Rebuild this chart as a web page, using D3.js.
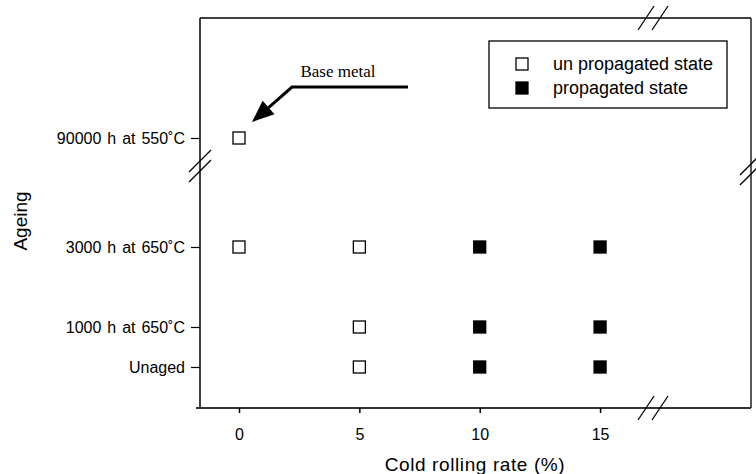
<!DOCTYPE html>
<html>
<head>
<meta charset="utf-8">
<script src="https://cdn.jsdelivr.net/npm/d3@7/dist/d3.min.js"></script>
<style>
  html, body { margin: 0; padding: 0; background: #fff; }
  svg { display: block; }
</style>
</head>
<body>
<svg id="chart" width="756" height="474" font-family="Liberation Sans, Arial, sans-serif"></svg>
<script>
// Cold rolling rate tick values (%)
const rollingRates = [0, 5, 10, 15];

// Ageing conditions: label and ageing time in hours
const ageLabels = ["Unaged", "1000 h at 650˚C", "3000 h at 650˚C", "90000 h at 550˚C"];
const ageHours = [0, 1000, 3000, 90000];

// Un-propagated specimens (open squares)
const unpropRate = [0, 0, 5, 5, 5];
const unpropHours = [90000, 3000, 3000, 1000, 0];

// Propagated specimens (filled squares)
const propRate = [10, 15, 10, 15, 10, 15];
const propHours = [3000, 3000, 1000, 1000, 0, 0];

const legendLabels = ["un propagated state", "propagated state"];

const SANS = "Liberation Sans, Arial, sans-serif";
const SERIF = "Liberation Serif, Times New Roman, serif";

const svg = d3.select("#chart");
const frame = { left: 200, right: 751, top: 18, bottom: 408 };

// Linear rate scale
const x = d3.scaleLinear().domain([-1.62, 21.27]).range([frame.left, frame.right]);

// Broken ageing-time scale: 0–5000 h below the break, ~90000 h above it
const y = d3.scaleLinear()
  .domain([-1025, 5000, 89450, 93000])
  .range([frame.bottom, 167, 160, frame.top]);

const yBreakPx = 166;
const xBreakPx = x(17.2);

// Frame lines
const g = svg.append("g");
g.append("line").attr("x1", frame.left).attr("x2", frame.left)
  .attr("y1", frame.top).attr("y2", frame.bottom)
  .attr("stroke", "#000").attr("stroke-width", 1.5);
g.append("line").attr("x1", frame.left - 4).attr("x2", frame.right)
  .attr("y1", frame.bottom).attr("y2", frame.bottom)
  .attr("stroke", "#333").attr("stroke-width", 2);
g.append("line").attr("x1", frame.left).attr("x2", frame.right)
  .attr("y1", frame.top).attr("y2", frame.top)
  .attr("stroke", "#000").attr("stroke-width", 1.5);
g.append("line").attr("x1", frame.right).attr("x2", frame.right)
  .attr("y1", frame.top).attr("y2", frame.bottom)
  .attr("stroke", "#222").attr("stroke-width", 1.5);

// Axes
const xAxis = d3.axisBottom(x).tickValues(rollingRates).tickSize(5).tickPadding(16)
  .tickFormat(d3.format("d"));
const xg = svg.append("g").attr("transform", `translate(0,${frame.bottom})`).call(xAxis);
xg.select(".domain").remove();
xg.selectAll(".tick line").attr("stroke", "#000").attr("stroke-width", 1.5);
xg.selectAll(".tick text").attr("font-size", 16).attr("font-family", SANS);

const yAxis = d3.axisLeft(y).tickValues(ageHours).tickSize(9).tickPadding(6)
  .tickFormat((d, i) => ageLabels[i]);
const yg = svg.append("g").attr("transform", `translate(${frame.left},0)`).call(yAxis);
yg.select(".domain").remove();
yg.selectAll(".tick line").attr("stroke", "#000").attr("stroke-width", 1.2);
yg.selectAll(".tick text").attr("font-size", 16).attr("font-family", SANS)
  .attr("word-spacing", 1.5);

// Axis break marks (double slashes)
function xBreak(cx, cy) {
  [-7, 7].forEach(dx => {
    svg.append("line")
      .attr("x1", cx + dx - 8).attr("y1", cy + 12)
      .attr("x2", cx + dx + 8).attr("y2", cy - 12)
      .attr("stroke", "#000").attr("stroke-width", 1.3);
  });
}
function yBreak(cx, cy) {
  [-5, 5].forEach(dy => {
    svg.append("line")
      .attr("x1", cx - 11).attr("y1", cy + dy + 11)
      .attr("x2", cx + 11).attr("y2", cy + dy - 11)
      .attr("stroke", "#000").attr("stroke-width", 1.3);
  });
}
xBreak(xBreakPx, frame.top);
xBreak(xBreakPx, frame.bottom);
yBreak(frame.left, yBreakPx);
yBreak(frame.right, yBreakPx + 3);

// Markers
const size = 12;
svg.append("g").selectAll("rect")
  .data(unpropRate.map((r, i) => [r, unpropHours[i]]))
  .join("rect")
  .attr("x", d => x(d[0]) - size / 2).attr("y", d => y(d[1]) - size / 2)
  .attr("width", size).attr("height", size)
  .attr("fill", "#fff").attr("stroke", "#000").attr("stroke-width", 1.3);
svg.append("g").selectAll("rect")
  .data(propRate.map((r, i) => [r, propHours[i]]))
  .join("rect")
  .attr("x", d => x(d[0]) - size / 2).attr("y", d => y(d[1]) - size / 2)
  .attr("width", size).attr("height", size)
  .attr("fill", "#000").attr("stroke", "#000").attr("stroke-width", 1.3);

// Legend
const lg = svg.append("g");
lg.append("rect").attr("x", 489).attr("y", 41).attr("width", 238).attr("height", 67)
  .attr("fill", "#fff").attr("stroke", "#000").attr("stroke-width", 1.3);
legendLabels.forEach((lab, i) => {
  const cy = 64 + i * 24;
  lg.append("rect").attr("x", 522 - size / 2).attr("y", cy - size / 2)
    .attr("width", size).attr("height", size)
    .attr("fill", i === 0 ? "#fff" : "#000").attr("stroke", "#000").attr("stroke-width", 1.3);
  lg.append("text").attr("x", 553).attr("y", cy + 6).attr("font-size", 18)
    .attr("font-family", SANS).text(lab);
});

// "Base metal" annotation with arrow
const bx = x(0), by = y(90000);
const tip = [bx + 13, by - 16];
const elbow = [bx + 53, by - 51];
const tail = [bx + 169, by - 51];
const ang = Math.atan2(tip[1] - elbow[1], tip[0] - elbow[0]);
const headLen = 22, headHalf = 9;
const base = [tip[0] - headLen * Math.cos(ang), tip[1] - headLen * Math.sin(ang)];
svg.append("polyline")
  .attr("points", [tail, elbow, base].map(p => p.join(",")).join(" "))
  .attr("fill", "none").attr("stroke", "#000").attr("stroke-width", 3);
svg.append("polygon")
  .attr("points", [
    tip,
    [base[0] + headHalf * Math.sin(ang), base[1] - headHalf * Math.cos(ang)],
    [base[0] - headHalf * Math.sin(ang), base[1] + headHalf * Math.cos(ang)]
  ].map(p => p.join(",")).join(" "))
  .attr("fill", "#000");
svg.append("text")
  .attr("x", bx + 99).attr("y", by - 61)
  .attr("text-anchor", "middle")
  .attr("font-family", SERIF)
  .attr("font-size", 17)
  .text("Base metal");

// Axis titles
svg.append("text")
  .attr("transform", `translate(27,221) rotate(-90)`)
  .attr("text-anchor", "middle").attr("font-size", 19).attr("font-family", SANS)
  .text("Ageing");
svg.append("text")
  .attr("x", 475).attr("y", 471)
  .attr("text-anchor", "middle").attr("font-size", 19).attr("font-family", SANS)
  .attr("letter-spacing", 0.6)
  .text("Cold rolling rate (%)");
</script>
</body>
</html>
